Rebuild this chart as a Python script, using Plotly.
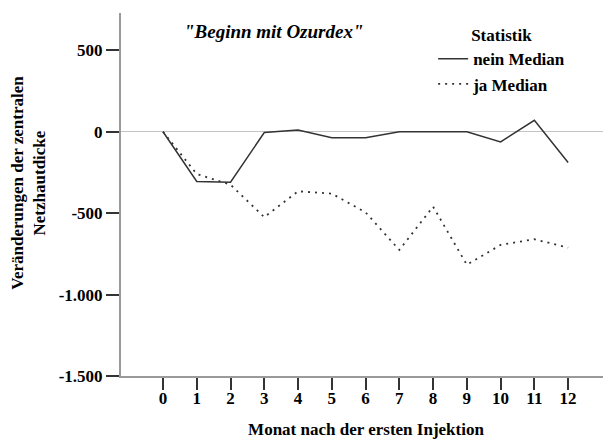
import plotly.graph_objects as go

months = list(range(0, 13))
month_labels = [str(m) for m in months]
nein_median = [0, -305, -310, -5, 10, -37, -37, 0, 0, 0, -63, 70, -189]
ja_median = [0, -260, -325, -525, -366, -380, -495, -726, -460, -817, -695, -660, -712]
y_ticks = [500, 0, -500, -1000, -1500]
y_tick_labels = ["500", "0", "-500", "-1.000", "-1.500"]

font_family = "Liberation Serif, Times New Roman, serif"
FS = 17

fig = go.Figure()
fig.add_trace(go.Scatter(x=months, y=nein_median, mode="lines", name="<b>nein Median</b>",
                         line=dict(color="#333333", width=1.5)))
fig.add_trace(go.Scatter(x=months, y=ja_median, mode="lines", name="<b>ja Median</b>",
                         line=dict(color="#333333", width=1.8, dash="2px,5px")))

# page body has an 8px margin, so the figure is 8px smaller than the window
fig.update_layout(
    width=603, height=431,
    margin=dict(l=113, r=0, t=5, b=63),
    paper_bgcolor="white", plot_bgcolor="white",
    font=dict(family=font_family, size=FS, color="black"),
    showlegend=True,
    legend=dict(
        title=dict(text="<b>Statistik</b>", side="top center",
                   font=dict(size=FS, family=font_family)),
        x=0.637, y=0.983, xanchor="left", yanchor="top",
        bgcolor="rgba(0,0,0,0)", font=dict(size=FS, family=font_family),
        tracegroupgap=0,
    ),
    xaxis=dict(
        range=[-1.244, 13.27], tickmode="array", tickvals=months,
        ticktext=[f"<b>{t}</b>" for t in month_labels],
        showline=True, linecolor="#9a9a9a", linewidth=2,
        ticks="outside", ticklen=12, tickcolor="#333333", tickwidth=1.5,
        showgrid=False, zeroline=False, ticklabelstandoff=-6,
        title=dict(text="<b>Monat nach der ersten Injektion</b>", standoff=18,
                   font=dict(size=FS)),
        tickfont=dict(size=FS),
    ),
    yaxis=dict(
        range=[-1500, 729], tickmode="array", tickvals=y_ticks,
        ticktext=[f"<b>{t}</b>" for t in y_tick_labels],
        showline=True, linecolor="#9a9a9a", linewidth=2,
        ticks="outside", ticklen=13, tickcolor="#333333", tickwidth=1.5,
        showgrid=False, zeroline=True, zerolinecolor="#c4c4c4", zerolinewidth=1,
        tickfont=dict(size=FS),
    ),
)

fig.add_annotation(text="<b>Veränderungen der zentralen<br>Netzhautdicke</b>",
                   xref="paper", yref="paper", x=-0.188, y=0.532, textangle=-90,
                   xanchor="center", yanchor="middle", showarrow=False,
                   font=dict(size=FS, family=font_family))

fig.add_annotation(text="<b><i>\"Beginn mit Ozurdex\"</i></b>", xref="paper", yref="paper",
                   x=0.312, y=0.950, xanchor="center", yanchor="middle", showarrow=False,
                   font=dict(size=19, family=font_family))

fig.write_html("out.html")
